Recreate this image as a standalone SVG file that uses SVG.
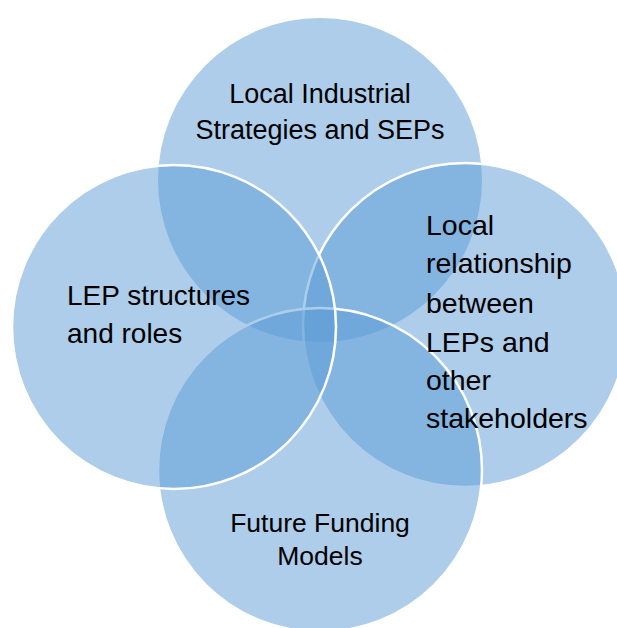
<svg xmlns="http://www.w3.org/2000/svg" width="617" height="628" viewBox="0 0 617 628">
<style>
.c{fill:#5B9BD5;fill-opacity:0.5;stroke:#FFFFFF;stroke-width:2.5}
.ns{stroke:none}
.t{font-family:"Liberation Sans",Arial,sans-serif;fill:#000000}
.m{text-anchor:middle}
</style>
<rect x="0" y="0" width="617" height="628" fill="#FFFFFF"/>
<g id="node-top"><circle class="c ns" cx="320" cy="180" r="162"/></g>
<g id="node-right"><circle class="c" cx="465" cy="325" r="162"/></g>
<g id="node-bottom"><circle class="c" cx="320" cy="470" r="162"/></g>
<g id="node-left"><circle class="c" cx="174" cy="327" r="162"/></g>
<g id="connectors"></g>
<g id="labels">
<text id="label-top" class="t m" font-size="27"><tspan x="320" y="103">Local Industrial</tspan><tspan x="320" y="139">Strategies and SEPs</tspan></text>
<text id="label-left" class="t" font-size="28"><tspan x="67" y="305">LEP structures</tspan><tspan x="67" y="343">and roles</tspan></text>
<text id="label-right" class="t" font-size="28.5"><tspan x="426" y="235">Local</tspan><tspan x="426" y="273">relationship</tspan><tspan x="426" y="313">between</tspan><tspan x="426" y="352">LEPs and</tspan><tspan x="426" y="390">other</tspan><tspan x="426" y="428">stakeholders</tspan></text>
<text id="label-bottom" class="t m" font-size="26.5"><tspan x="320" y="532">Future Funding</tspan><tspan x="320" y="565">Models</tspan></text>
</g>
</svg>
